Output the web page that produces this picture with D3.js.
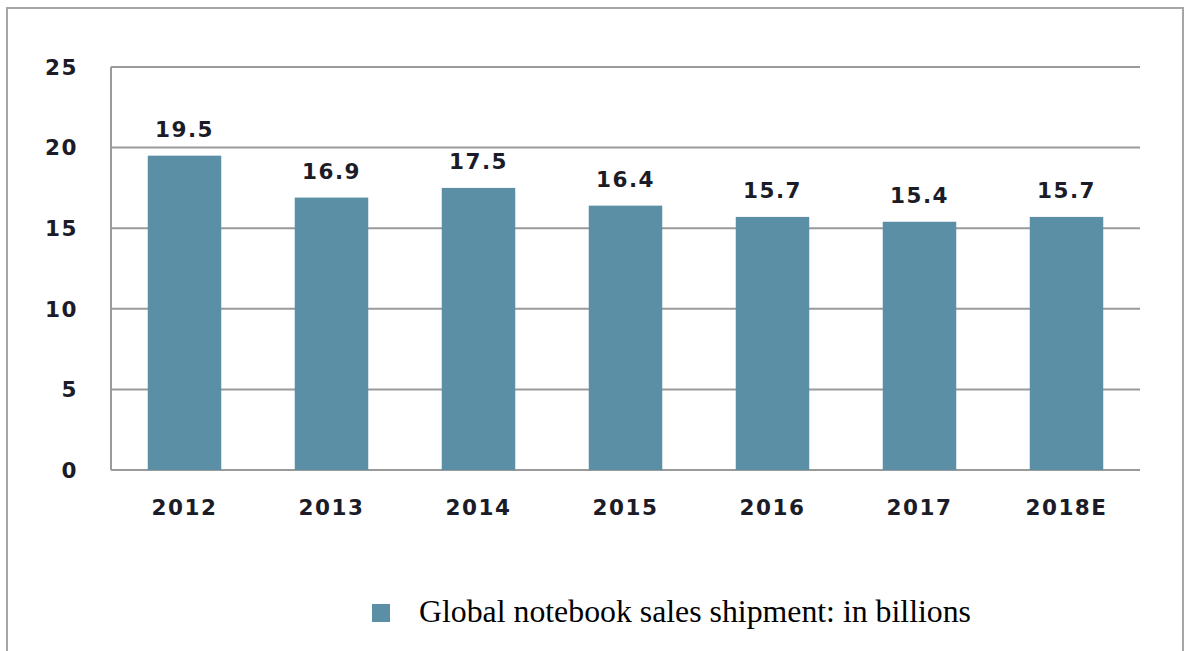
<!DOCTYPE html>
<html><head><meta charset="utf-8">
<script src="https://cdn.jsdelivr.net/npm/d3@7"></script>
<style>body{margin:0;background:#fff}svg{display:block}</style>
</head><body>
<script>
const categories = ["2012","2013","2014","2015","2016","2017","2018E"];
const values = [19.5,16.9,17.5,16.4,15.7,15.4,15.7];
const yTicks = [0,5,10,15,20,25];
const seriesName = "Global notebook sales shipment: in billions";

const W = 1185, H = 651;
const svg = d3.select("body").append("svg").attr("width", W).attr("height", H);
svg.append("rect").attr("x",7).attr("y",8).attr("width",1176).attr("height",700)
  .attr("fill","#fff").attr("stroke","#a6a6a6").attr("stroke-width",2);

const L = 111, R = 1140, T = 67, B = 470;
const x = d3.scaleBand().domain(categories).range([L,R]).paddingInner(0.5).paddingOuter(0.25);
const y = d3.scaleLinear().domain([0,25]).range([B,T]);
const barColor = "#5b8fa6";
const txt = "#1c1c28";
const fs = 21.5;

// gridlines
svg.append("g").selectAll("line").data(yTicks).join("line")
  .attr("x1",L).attr("x2",R).attr("y1",d=>y(d)).attr("y2",d=>y(d))
  .attr("stroke","#9a9a9a").attr("stroke-width",2);
svg.append("line").attr("x1",L).attr("x2",L).attr("y1",y(25)).attr("y2",y(0))
  .attr("stroke","#9a9a9a").attr("stroke-width",2);

// y labels
svg.append("g").selectAll("text").data(yTicks).join("text")
  .attr("x",78).attr("y",d=>y(d)).attr("dy","0.36em").attr("text-anchor","end")
  .attr("font-family","DejaVu Sans").attr("font-weight","bold").attr("font-size",fs)
  .attr("letter-spacing",1.5).attr("fill",txt).text(d=>d);

// bars
svg.append("g").selectAll("rect").data(values).join("rect")
  .attr("x",(d,i)=>x(categories[i])).attr("width",x.bandwidth())
  .attr("y",d=>y(d)).attr("height",d=>y(0)-y(d)).attr("fill",barColor);

// value labels
svg.append("g").selectAll("text").data(values).join("text")
  .attr("x",(d,i)=>x(categories[i])+x.bandwidth()/2).attr("y",d=>y(d)-19)
  .attr("text-anchor","middle")
  .attr("font-family","DejaVu Sans").attr("font-weight","bold").attr("font-size",fs)
  .attr("letter-spacing",1.5).attr("fill",txt).text(d=>d.toFixed(1));

// x labels
svg.append("g").selectAll("text").data(categories).join("text")
  .attr("x",d=>x(d)+x.bandwidth()/2).attr("y",515).attr("text-anchor","middle")
  .attr("font-family","DejaVu Sans").attr("font-weight","bold").attr("font-size",fs)
  .attr("letter-spacing",1.5).attr("fill",txt).text(d=>d);

// legend
svg.append("rect").attr("x",372).attr("y",604).attr("width",18).attr("height",18).attr("fill",barColor);
svg.append("text").attr("x",419).attr("y",622)
  .attr("font-family","Liberation Serif").attr("font-size",31.8).attr("fill","#000").text(seriesName);
</script>
</body></html>
